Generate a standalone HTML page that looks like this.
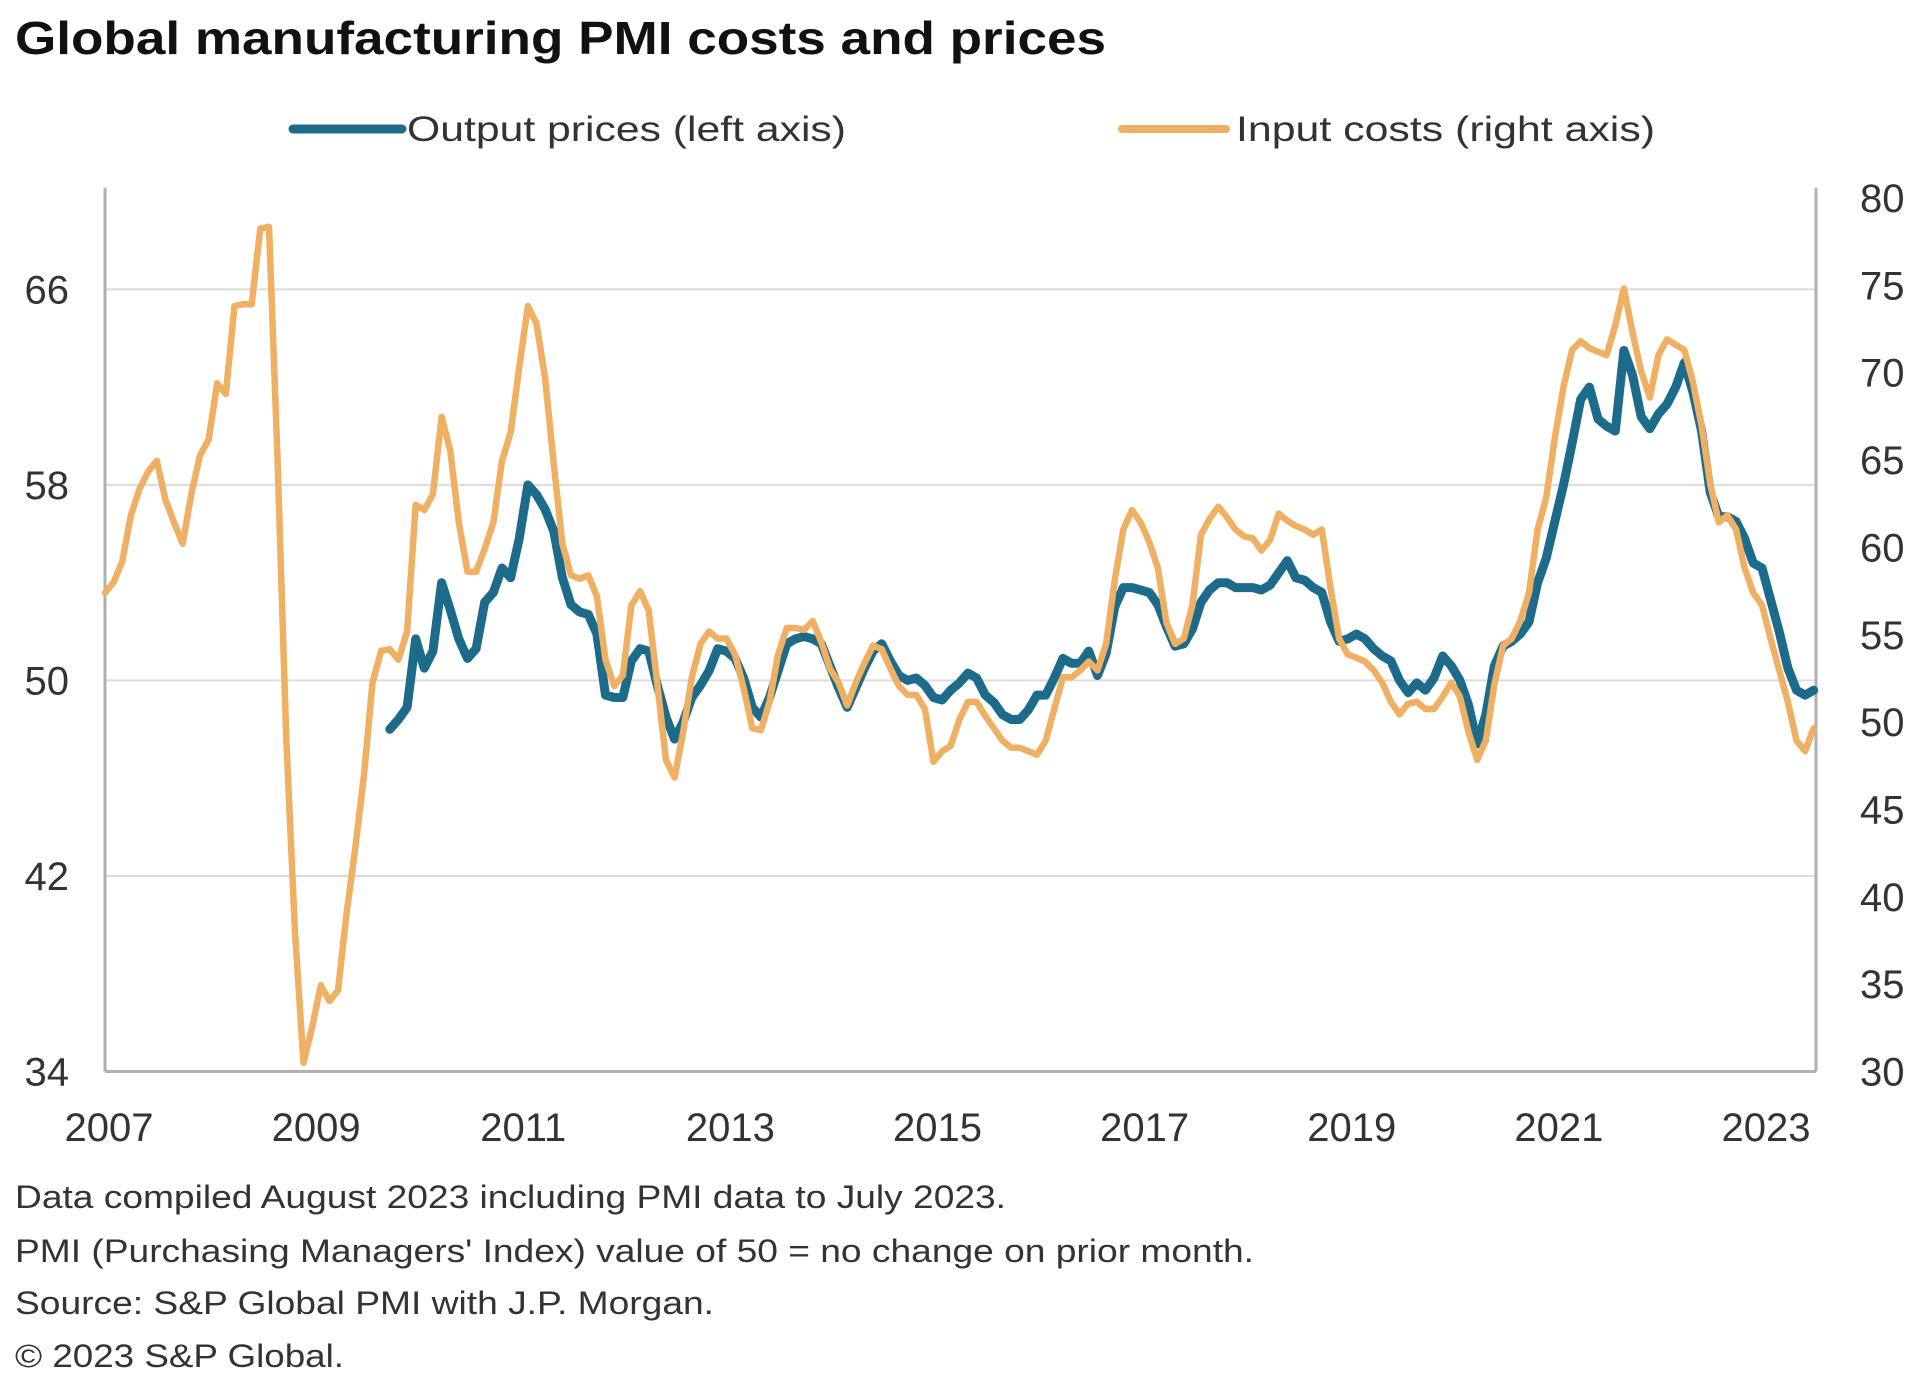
<!DOCTYPE html>
<html><head><meta charset="utf-8"><style>
html,body{margin:0;padding:0;background:#fff;}
svg{display:block;font-family:"Liberation Sans",Arial,sans-serif;}
</style></head><body>
<svg id="chart" width="1932" height="1392" viewBox="0 0 1932 1392" xmlns="http://www.w3.org/2000/svg">
<text x="15" y="54" font-size="46" font-weight="bold" fill="#111" textLength="1091" lengthAdjust="spacingAndGlyphs">Global manufacturing PMI costs and prices</text>
<g>
<line x1="293" y1="129" x2="402" y2="129" stroke="#1d6b8a" stroke-width="9" stroke-linecap="round"/>
<text x="407" y="141" font-size="35" fill="#333" textLength="439" lengthAdjust="spacingAndGlyphs">Output prices (left axis)</text>
<line x1="1122" y1="129" x2="1226" y2="129" stroke="#efb063" stroke-width="8" stroke-linecap="round"/>
<text x="1236" y="141" font-size="35" fill="#333" textLength="419" lengthAdjust="spacingAndGlyphs">Input costs (right axis)</text>
</g>
<g id="grid"></g>
<g id="axes"></g>
<g id="series"></g>
<g font-size="32" fill="#333">
<text x="15" y="1208" textLength="991" lengthAdjust="spacingAndGlyphs">Data compiled August 2023 including PMI data to July 2023.</text>
<text x="15" y="1262" textLength="1239" lengthAdjust="spacingAndGlyphs">PMI (Purchasing Managers' Index) value of 50 = no change on prior month.</text>
<text x="15" y="1314" textLength="699" lengthAdjust="spacingAndGlyphs">Source: S&amp;P Global PMI with J.P. Morgan.</text>
<text x="15" y="1367" textLength="329" lengthAdjust="spacingAndGlyphs">© 2023 S&amp;P Global.</text>
</g>
</svg>
<script>
// Monthly data, Jan 2007 .. Jul 2023
const startYear = 2007;
const inputCosts = [
57.2,57.8,59.0,61.6,63.1,64.1,64.7,62.5,61.2,60.0,62.8,65.0,
65.9,69.1,68.5,73.5,73.6,73.6,77.9,78.0,64.7,49.0,38.0,30.5,
32.5,34.9,34.0,34.6,39.0,42.7,46.8,52.1,53.9,54.0,53.4,55.0,
62.2,61.9,62.8,67.2,65.3,61.2,58.4,58.4,59.7,61.2,64.7,66.3,
70.0,73.5,72.5,69.4,64.5,60.0,58.2,58.0,58.2,57.0,53.4,51.9,
52.5,56.5,57.3,56.2,52.0,47.7,46.7,49.3,52.4,54.3,55.0,54.6,
54.6,53.7,51.8,49.5,49.4,51.0,53.7,55.2,55.2,55.1,55.6,54.4,
52.9,52.1,50.8,52.1,53.2,54.2,54.0,52.9,51.9,51.4,51.4,50.6,
47.6,48.2,48.5,50.0,51.0,51.0,50.2,49.5,48.8,48.4,48.4,48.2,
48.0,48.8,50.6,52.4,52.4,52.8,53.3,52.8,54.3,57.9,60.8,61.9,
61.2,60.1,58.6,55.5,54.3,54.6,56.5,60.5,61.4,62.1,61.5,60.8,
60.4,60.3,59.6,60.2,61.7,61.3,61.0,60.8,60.5,60.8,57.5,54.6,
53.7,53.5,53.3,52.8,52.1,51.0,50.3,50.9,51.0,50.6,50.6,51.3,
52.1,51.3,49.3,47.7,48.8,52.0,54.2,54.6,55.6,57.2,60.8,62.6,
66.0,68.9,71.0,71.5,71.1,70.9,70.7,72.4,74.5,72.0,69.8,68.3,
70.7,71.6,71.3,71.0,69.2,66.7,63.4,61.2,61.6,60.8,58.6,57.2,
56.5,54.6,52.8,51.0,48.8,48.2,49.5
];
const outputStart = 33; // Oct 2009
const outputPrices = [
48.0,48.4,48.9,
51.7,50.5,51.2,54.0,52.9,51.7,50.9,51.3,53.2,53.6,54.6,54.2,
55.8,58.0,57.6,57.0,56.1,54.2,53.1,52.8,52.7,51.9,49.4,49.3,
49.3,50.8,51.3,51.2,49.8,48.5,47.6,48.3,49.3,49.8,50.4,51.3,
51.2,50.9,50.1,48.9,48.5,49.3,50.4,51.5,51.7,51.8,51.7,51.5,
50.6,49.7,48.9,49.7,50.5,51.2,51.5,50.8,50.2,50.0,50.1,49.8,
49.3,49.2,49.6,49.9,50.3,50.1,49.4,49.1,48.6,48.4,48.4,48.8,
49.4,49.4,50.1,50.9,50.7,50.7,51.2,50.2,51.1,53.0,53.8,53.8,
53.7,53.6,53.1,52.2,51.4,51.5,52.1,53.2,53.7,54.0,54.0,53.8,
53.8,53.8,53.7,53.9,54.4,54.9,54.2,54.1,53.8,53.6,52.4,51.6,
51.7,51.9,51.7,51.3,51.0,50.8,50.0,49.5,49.9,49.6,50.1,51.0,
50.6,50.0,49.0,47.4,48.6,50.6,51.4,51.6,51.9,52.4,54.0,55.0,
56.5,58.0,59.7,61.5,62.0,60.7,60.4,60.2,63.5,62.5,60.8,60.3,
60.9,61.3,62.0,63.0,61.8,60.2,57.7,56.7,56.7,56.5,55.8,54.8,
54.6,53.3,52.0,50.5,49.6,49.4,49.6
];
const leftTicks = [34,42,50,58,66];
const rightTicks = [30,35,40,45,50,55,60,65,70,75,80];
const yearTicks = [2007,2009,2011,2013,2015,2017,2019,2021,2023];

const X0=105, X1=1816, YT=191.6, YB=1071.5, MONTHPX=8.63;
const xOf = m => X0 + m*MONTHPX;
const yLeft = v => YB - (v-34)/(70-34)*(YB-YT);
const yRight = v => YB - (v-30)/(80-30)*(YB-YT);
const yRightLabel = v => YB - (v-30)/(80-30)*(YB-198);
const NS="http://www.w3.org/2000/svg";
function mk(tag, parent, attrs){const e=document.createElementNS(NS,tag);for(const k in attrs)e.setAttribute(k,attrs[k]);parent.appendChild(e);return e;}

const grid=document.getElementById('grid'), axes=document.getElementById('axes'), series=document.getElementById('series');
leftTicks.forEach(t=>{
  if(t>34){const g=mk('line',grid,{x1:X0,x2:X1,y1:yLeft(t),y2:yLeft(t),stroke:'#dcdcdc','stroke-width':2});
  
  }
  const l=mk('text',axes,{x:69,y:yLeft(t)+14,'text-anchor':'end','font-size':40,fill:'#333'});
  l.textContent=t;
  
  
});
rightTicks.forEach(t=>{
  const l=mk('text',axes,{x:1860,y:yRightLabel(t)+14,'font-size':40,fill:'#333'});
  l.textContent=t;
  
  
});
yearTicks.forEach(yr=>{
  const l=mk('text',axes,{x:xOf((yr-startYear)*12)+4,y:1141,'text-anchor':'middle','font-size':40,fill:'#333'});
  l.textContent=yr;
  
  
});
const la=mk('line',axes,{x1:X0,x2:X0,y1:YT-4,y2:YB,stroke:'#b0b0b0','stroke-width':3});


const ra=mk('line',axes,{x1:X1,x2:X1,y1:YT-4,y2:YB,stroke:'#b0b0b0','stroke-width':3});


const ba=mk('line',axes,{x1:X0,x2:X1,y1:YB,y2:YB,stroke:'#b0b0b0','stroke-width':3});



const outD = outputPrices.map((v,i)=>(i?'L':'M')+xOf(outputStart+i).toFixed(1)+' '+yLeft(v).toFixed(1)).join(' ');
const op=mk('path',series,{d:outD,fill:'none',stroke:'#1d6b8a','stroke-width':9,'stroke-linejoin':'round','stroke-linecap':'round'});


const inD = inputCosts.map((v,i)=>(i?'L':'M')+xOf(i).toFixed(1)+' '+yRight(v).toFixed(1)).join(' ');
const ip=mk('path',series,{d:inD,fill:'none',stroke:'#efb063','stroke-width':6.5,'stroke-linejoin':'round','stroke-linecap':'round'});


</script>
</body></html>
